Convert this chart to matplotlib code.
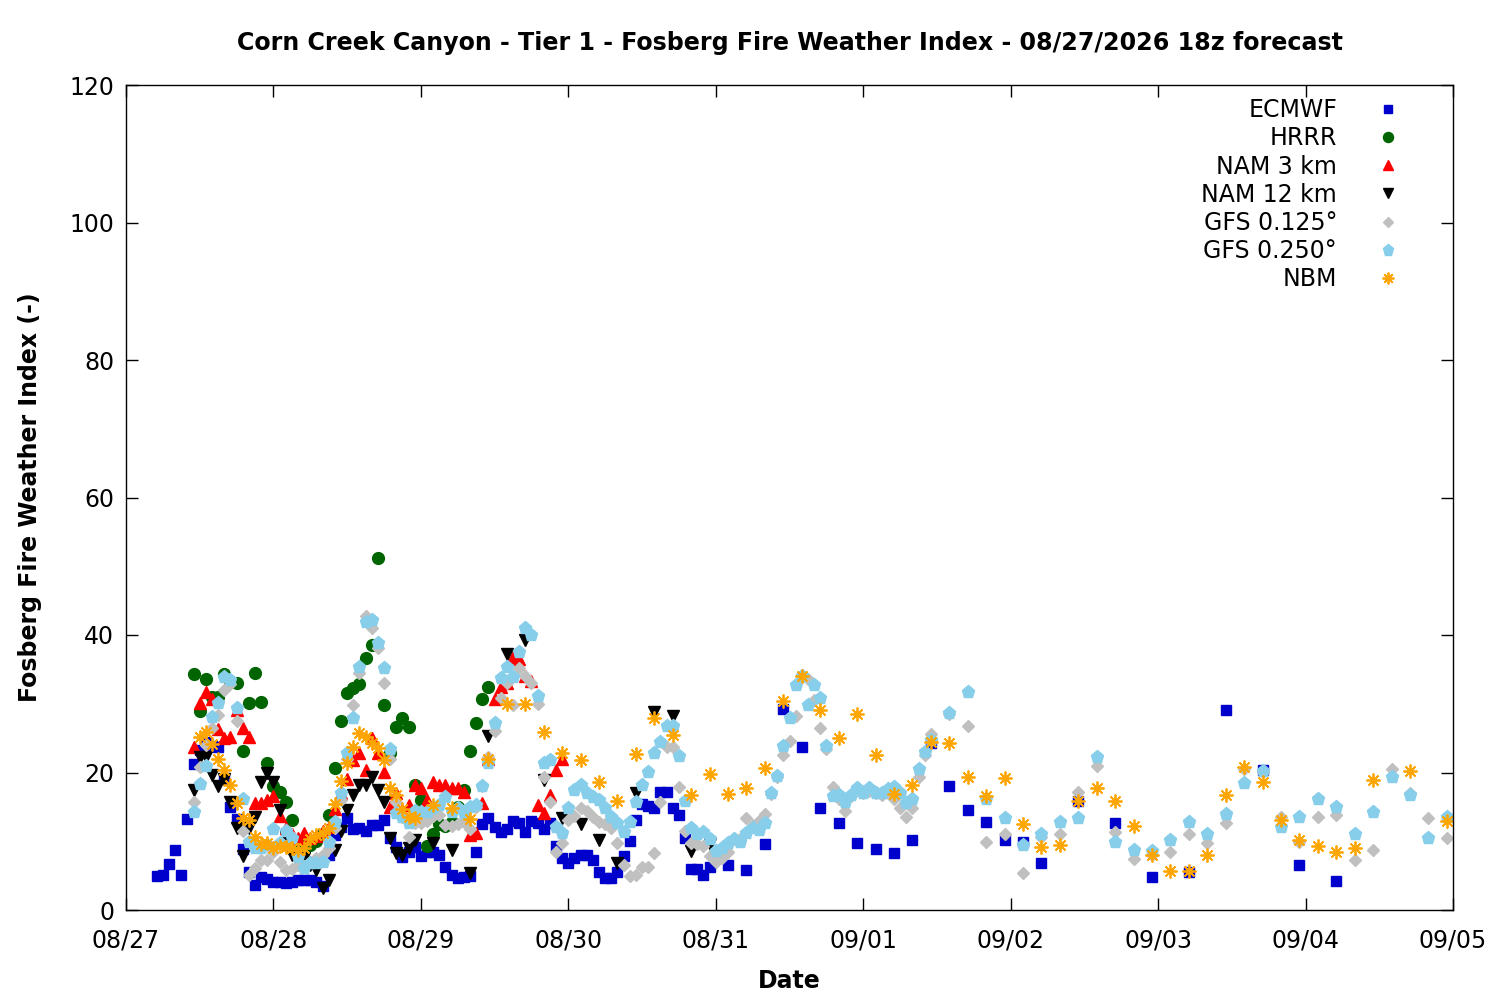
import matplotlib
matplotlib.use("Agg")
import matplotlib.pyplot as plt

plt.rcParams['font.family'] = ['DejaVu Sans']

# ---------------- data (hours since 08/27 00, Fosberg index) ----------------
date_labels = ["08/27", "08/28", "08/29", "08/30", "08/31", "09/01", "09/02", "09/03", "09/04", "09/05"]

ecmwf_t = list(range(5, 96)) + list(range(98, 150, 3)) + list(range(155, 198, 6))
ecmwf_v = [4.9, 5.1, 6.7, 8.8, 5.1, 13.3, 21.2, 23.3, 24.5, 23.8,
           23.7, 19.0, 15.0, 13.3, 8.9, 5.5, 3.6, 4.8, 4.5, 4.1,
           4.1, 4.0, 4.1, 4.3, 4.4, 4.3, 4.1, 3.5, 8.0, 10.9,
           12.1, 13.4, 11.8, 11.9, 11.5, 12.4, 12.3, 13.1, 10.5, 9.2,
           7.7, 8.5, 9.1, 7.9, 8.5, 8.4, 8.0, 6.2, 5.1, 4.6,
           4.8, 5.0, 8.4, 12.5, 13.4, 12.1, 11.3, 11.8, 12.9, 12.7,
           11.4, 12.9, 12.7, 11.8, 12.7, 9.3, 7.6, 6.8, 7.6, 8.0,
           8.0, 7.3, 5.6, 4.7, 4.7, 5.6, 7.8, 10.0, 13.1, 15.4,
           15.1, 14.8, 17.1, 17.2, 14.8, 13.8, 10.5, 6.0, 6.0, 5.1,
           6.3,
           6.5, 5.8, 9.6, 29.2, 23.7, 14.8, 12.6, 9.7, 8.9, 8.3,
           10.2, 24.3, 18.0, 14.5, 12.8, 10.2, 9.9, 6.8,
           15.9, 12.7, 4.8, 5.5, 29.1, 20.4, 6.5, 4.2]

hrrr_t = list(range(11, 60))
hrrr_v = [34.4, 29.0, 33.6, 31.0, 31.0, 34.3, 33.1, 33.0, 23.2, 30.1,
          34.5, 30.2, 21.4, 18.0, 17.2, 15.7, 13.1, 9.5, 9.6, 9.4,
          10.0, 11.0, 13.8, 20.6, 27.5, 31.6, 32.3, 32.9, 36.7, 38.6,
          51.2, 29.8, 22.8, 26.6, 27.9, 26.6, 18.2, 16.0, 9.3, 11.0,
          12.5, 12.2, 12.8, 15.0, 17.4, 23.1, 27.2, 30.7, 32.4]

nam3_t = list(range(11, 72))
nam3_v = [23.7, 30.1, 31.7, 30.7, 26.3, 25.0, 25.2, 29.1, 26.5, 25.2,
          15.6, 15.6, 16.0, 16.6, 13.7, 11.9, 11.0, 10.5, 11.2, 10.5,
          10.8, 11.5, 12.1, 14.7, 17.0, 19.0, 21.8, 22.8, 20.4, 25.0,
          22.8, 20.1, 15.0, 17.0, 14.5, 15.3, 18.2, 17.7, 16.0, 18.6,
          18.2, 18.2, 17.7, 17.8, 17.2, 10.9, 11.2, 15.6, 22.0, 30.7,
          32.4, 33.0, 36.8, 36.5, 34.0, 33.3, 15.3, 14.1, 16.7, 20.4,
          21.9]

nam12_t = list(range(11, 48)) + list(range(50, 96, 3))
nam12_v = [17.4, 22.3, 22.3, 19.6, 18.0, 19.1, 15.7, 11.9, 7.9, 12.0,
           13.5, 18.6, 19.9, 18.6, 14.6, 10.6, 8.0, 7.1, 7.5, 6.5,
           5.8, 3.2, 4.4, 8.7, 11.5, 14.5, 16.7, 18.2, 18.2, 19.3,
           17.5, 15.7, 10.5, 8.3, 8.0, 9.0, 10.2,
           9.7, 8.7, 5.4, 25.3, 37.2, 39.3, 18.9, 13.4, 12.5, 10.2,
           6.8, 17.0, 28.8, 28.2, 8.6, 9.6]

gfs125_t = list(range(11, 132)) + list(range(134, 216, 3))
gfs125_v = [15.7, 20.8, 24.0, 26.5, 28.4, 32.0, 32.9, 27.5, 11.5, 5.1,
            6.1, 7.3, 7.3, 8.5, 7.0, 5.8, 6.0, 6.5, 6.4, 7.0,
            7.5, 8.0, 9.0, 12.0, 16.0, 22.0, 29.8, 34.5, 42.8, 41.0,
            38.1, 33.0, 22.0, 15.7, 13.5, 10.6, 12.7, 12.7, 12.9, 13.7,
            13.8, 12.4, 12.2, 12.5, 12.8, 11.8, 15.0, 18.0, 22.3, 26.0,
            30.8, 33.0, 29.8, 35.2, 34.0, 33.0, 30.0, 19.4, 15.7, 8.5,
            9.7, 13.1, 13.7, 14.8, 14.4, 13.5, 12.8, 12.5, 11.9, 9.7,
            6.5, 4.9, 5.1, 6.2, 6.3, 8.3, 15.7, 23.7, 23.7, 17.9,
            11.5, 9.7, 9.6, 9.3, 7.9, 7.0, 7.5, 8.4, 10.3, 10.4,
            13.4, 12.4, 12.9, 14.0, 16.9, 19.3, 22.5, 24.6, 28.2, 33.9,
            33.6, 30.5, 26.5, 23.4, 17.9, 16.1, 14.4, 16.6, 17.7, 17.0,
            17.3, 17.0, 16.8, 17.0, 16.1, 14.8, 13.5, 14.8, 19.3, 22.5,
            25.6,
            28.5, 26.8, 9.9, 11.1, 5.4, 10.6, 11.1, 17.1, 20.9, 11.4,
            7.4, 8.0, 8.4, 11.1, 9.7, 12.7, 20.5, 20.1, 13.5, 9.9,
            13.5, 13.8, 7.3, 8.7, 20.5, 17.0, 13.4, 10.5]

gfs250_t = list(range(11, 132)) + list(range(134, 216, 3))
gfs250_v = [14.3, 18.4, 21.0, 28.1, 30.1, 33.9, 33.5, 29.4, 16.1, 9.9,
            9.0, 9.0, 9.5, 11.8, 9.8, 11.5, 10.5, 7.7, 6.1, 6.8,
            6.9, 7.0, 9.9, 12.8, 17.0, 22.8, 27.9, 35.3, 41.9, 42.2,
            38.8, 35.2, 23.4, 14.1, 13.5, 12.7, 14.4, 14.2, 14.3, 14.8,
            15.3, 16.4, 14.2, 14.8, 14.1, 15.0, 15.3, 18.0, 21.4, 27.2,
            33.7, 35.3, 33.9, 37.5, 41.0, 40.0, 31.1, 21.4, 21.8, 12.1,
            11.2, 14.8, 17.4, 18.2, 17.0, 16.4, 16.0, 14.8, 13.5, 12.7,
            11.3, 12.8, 15.7, 18.2, 20.1, 22.8, 24.5, 26.7, 26.8, 22.4,
            15.8, 11.9, 11.1, 11.3, 10.3, 8.6, 9.0, 9.7, 10.3, 9.9,
            11.2, 11.9, 11.6, 12.7, 17.0, 19.5, 23.9, 27.9, 32.7, 34.0,
            29.8, 32.7, 30.8, 23.9, 16.6, 16.8, 15.7, 16.7, 17.7, 17.0,
            17.7, 17.0, 17.0, 17.6, 17.9, 17.0, 15.6, 16.1, 20.5, 23.0,
            24.7,
            28.7, 31.7, 16.1, 13.4, 9.5, 11.1, 12.8, 13.4, 22.3, 9.9,
            8.7, 8.6, 10.2, 12.8, 11.1, 14.0, 18.5, 20.2, 12.1, 13.5,
            16.1, 15.0, 11.1, 14.2, 19.4, 16.7, 10.5, 13.5]

nbm_t = list(range(12, 48)) + list(range(50, 204, 3)) + [209, 215]
nbm_v = [25.2, 25.9, 24.1, 22.0, 20.3, 18.2, 15.6, 13.4, 13.1, 10.6,
         9.6, 9.7, 9.0, 9.3, 9.2, 9.0, 8.7, 9.0, 10.3, 10.9,
         11.2, 12.0, 15.4, 18.8, 21.4, 23.7, 25.8, 25.2, 24.3, 23.6,
         21.8, 17.7, 16.7, 14.7, 13.5, 13.4,
         15.3, 14.8, 13.2, 22.0, 30.0, 30.0, 25.9, 22.8, 21.8, 18.6,
         15.9, 22.7, 27.9, 25.5, 16.7, 19.8, 16.9, 17.7, 20.7, 30.4,
         34.0, 29.1, 25.0, 28.5, 22.5, 16.9, 18.2, 24.4, 24.3, 19.3,
         16.6, 19.2, 12.5, 9.2, 9.5, 15.9, 17.7, 15.9, 12.2, 8.0,
         5.7, 5.7, 8.0, 16.7, 20.8, 18.6, 13.1, 10.2, 9.3, 8.4,
         9.0, 18.9,
         20.2, 12.9]

series = [
    ("ECMWF", ecmwf_t, ecmwf_v, dict(marker='s', color='#0000cc', ms=7.0, mec='#0000cc')),
    ("HRRR", hrrr_t, hrrr_v, dict(marker='o', color='#006400', ms=8.5, mec='#006400')),
    ("NAM 3 km", nam3_t, nam3_v, dict(marker='^', color='#ff0000', ms=9.0, mec='#ff0000')),
    ("NAM 12 km", nam12_t, nam12_v, dict(marker='v', color='#000000', ms=9.0, mec='#000000')),
    ("GFS 0.125°", gfs125_t, gfs125_v, dict(marker='D', color='#c0c0c0', ms=6.5, mec='#c0c0c0')),
    ("GFS 0.250°", gfs250_t, gfs250_v, dict(marker='p', color='#87ceeb', ms=9.5, mec='#87ceeb')),
    ("NBM", nbm_t, nbm_v, dict(marker=(8, 2, 0), color='#ffa500', ms=10.0, mec='#ffa500', mew=1.3)),
]

for name, t, v, _ in series:
    assert len(t) == len(v), (name, len(t), len(v))

fig = plt.figure(figsize=(15, 10), dpi=100)
ax = fig.add_axes([126 / 1500, 90 / 1000, 1327 / 1500, 825 / 1000])

for name, t, v, st in series:
    ax.plot(t, v, linestyle='none', label=name, **st)

ax.set_xlim(0, 216)
ax.set_ylim(0, 120)
ax.set_xticks(range(0, 217, 24))
ax.set_xticklabels(date_labels)
ax.set_yticks(range(0, 121, 20))
ax.tick_params(direction='in', length=8.6, width=1, labelsize=17, top=True, right=True)
ax.tick_params(axis='x', pad=13)
ax.tick_params(axis='y', pad=8.5)
for s in ax.spines.values():
    s.set_linewidth(1.0)

ax.set_title("Corn Creek Canyon - Tier 1 - Fosberg Fire Weather Index - 08/27/2026 18z forecast",
             fontsize=17.1, fontweight='bold', pad=25)
ax.set_xlabel("Date", fontsize=17, fontweight='bold', labelpad=12)
ax.set_ylabel("Fosberg Fire Weather Index (-)", fontsize=17, fontweight='bold', labelpad=20)

leg = ax.legend(loc='upper right', bbox_to_anchor=(1402 / 1500, 1 - 98 / 1000),
                bbox_transform=fig.transFigure, frameon=False, markerfirst=False,
                fontsize=17, handlelength=1.2, handletextpad=1.55, labelspacing=0.18,
                borderaxespad=0, borderpad=0, markerscale=0.85)

fig.savefig("out.png", dpi=100)
